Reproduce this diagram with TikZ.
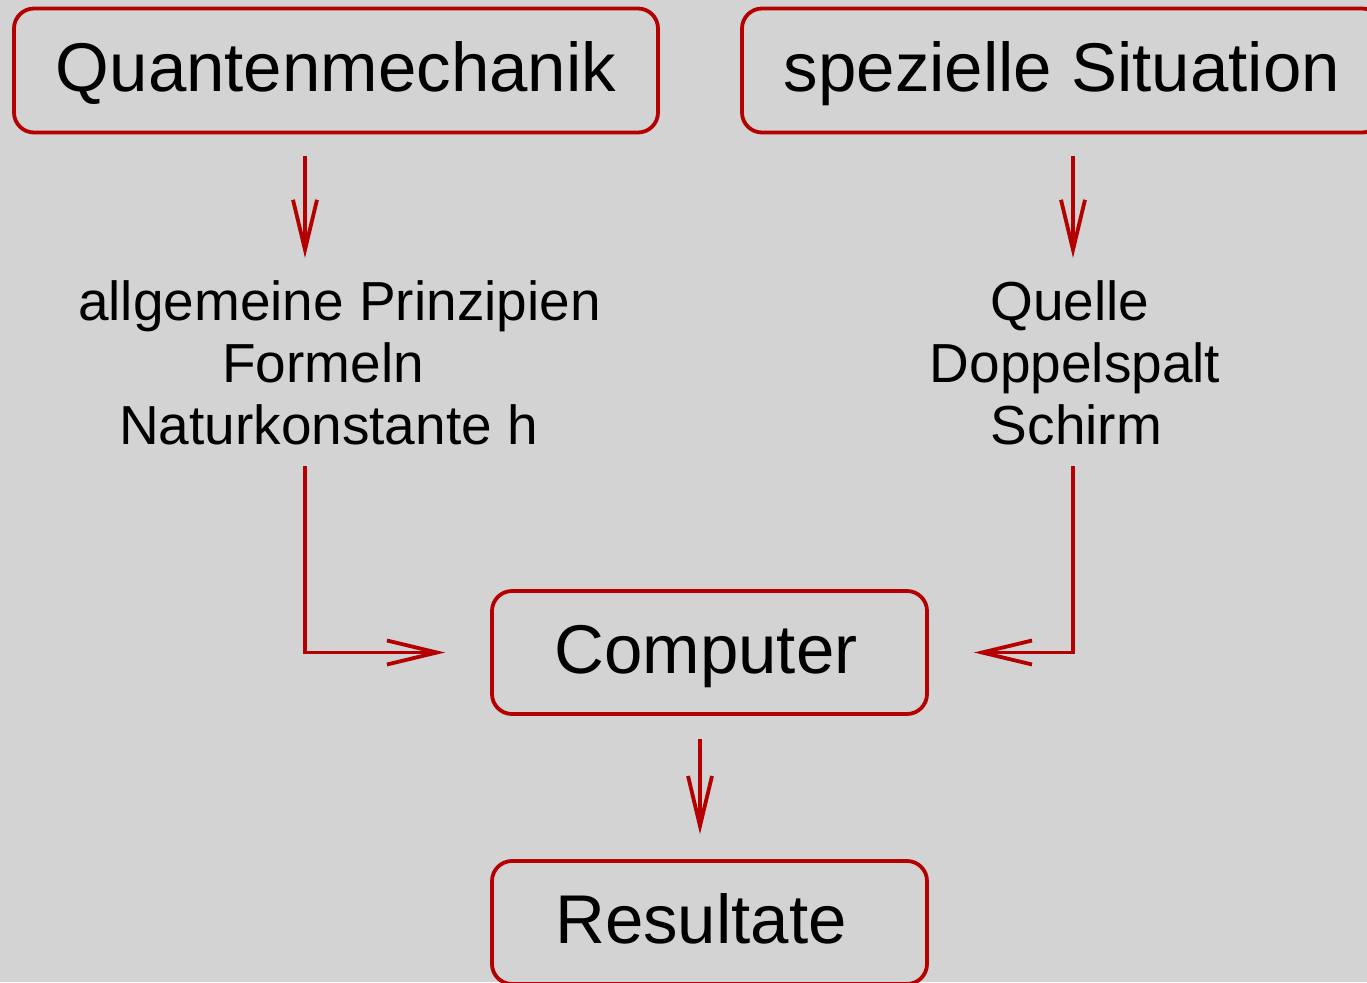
\documentclass[tikz,border=0pt]{standalone}
\usepackage{fontspec}
\setmainfont{Liberation Sans}
\usetikzlibrary{arrows.meta}
\definecolor{bgc}{RGB}{211,211,211}
\definecolor{darkred}{RGB}{180,0,0}
\tikzset{
  box/.style={draw=darkred, line width=3.8pt, rounded corners=20pt,
    inner sep=0pt, text height=52pt, text depth=11pt,
    font=\fontsize{69}{80}\selectfont},
  item/.style={anchor=base, inner sep=0pt, font=\fontsize{55}{62}\selectfont},
  arr/.style={draw=darkred, line width=3.8pt,
    -{Straight Barb[sharp, length=50pt, width=24pt]}},
}
\begin{document}
\begin{tikzpicture}[x=1pt, y=-1pt]
  \useasboundingbox (0,0) rectangle (1367,982);
  \fill[bgc] (0,0) rectangle (1367,982);
  \clip (0,0) rectangle (1367,982);

  % boxes
  \node[box, minimum width=644pt, minimum height=124pt] (q) at (336,70.5) {Quantenmechanik};
  \node[box, minimum width=640pt, minimum height=124pt] (s) at (1062,70.5) {spezielle Situation};
  \node[box, minimum width=435pt, minimum height=123pt] (c) at (709.5,652.5) {\hspace*{-7pt}Computer};
  \node[box, minimum width=435pt, minimum height=123pt] (res) at (709.5,922.5) {\hspace*{-17pt}Resultate};

  % ingredient lists
  \node[item] (l1) at (339.5,320) {allgemeine Prinzipien};
  \node[item] (l2) at (323,382) {Formeln};
  \node[item] (l3) at (328.5,444.5) {Naturkonstante h};
  \node[item] (r1) at (1070,320) {Quelle};
  \node[item] (r2) at (1075,382) {Doppelspalt};
  \node[item] (r3) at (1076.5,444.5) {Schirm};

  % connector starts below the lists
  \coordinate (lstart) at (305,466);
  \coordinate (rstart) at (1073,466);

  % connectors
  \draw[arr] ([xshift=-31pt,yshift=-21.5pt]q.south) -- ([xshift=-31pt,yshift=-123.5pt]q.south);
  \draw[arr] ([xshift=11pt,yshift=-21.5pt]s.south) -- ([xshift=11pt,yshift=-123.5pt]s.south);
  \draw[arr] (lstart) |- ([xshift=-45pt]c.west);
  \draw[arr] (rstart) |- ([xshift=45pt]c.east);
  \draw[arr] ([xshift=-9.5pt,yshift=-23pt]c.south) -- ([xshift=-9.5pt,yshift=25pt]res.north);
\end{tikzpicture}
\end{document}
